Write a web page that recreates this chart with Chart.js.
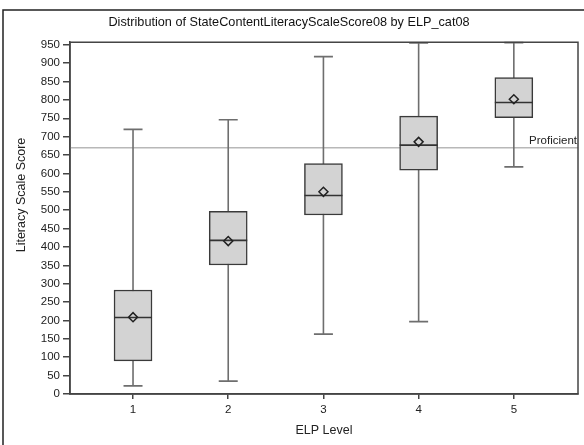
<!DOCTYPE html>
<html>
<head>
<meta charset="utf-8">
<script src="https://cdn.jsdelivr.net/npm/chart.js@4/dist/chart.umd.min.js"></script>
<style>
  html, body { margin: 0; padding: 0; background: #fff; }
  canvas { display: block; }
</style>
</head>
<body>
<canvas id="chart" width="584" height="445"></canvas>
<script>
// ELP levels and the box statistics
const levels = [1, 2, 3, 4, 5];
const levelLabels = ['1', '2', '3', '4', '5'];
const minVals = [22, 35, 163, 197, 618];
const q1Vals = [90, 351, 487, 609, 752];
const medianVals = [208, 418, 540, 677, 793];
const q3Vals = [283, 497, 627, 756, 861];
const maxVals = [720, 746, 918, 955, 956];
const meanVals = [209, 416, 550, 686, 802];
const proficientScore = 670;
const yTicks = [0, 50, 100, 150, 200, 250, 300, 350, 400, 450, 500, 550, 600, 650, 700, 750, 800, 850, 900, 950];

const FONT = "'Liberation Sans', Arial, sans-serif";

// whiskers, reference line, medians and frame, all placed through the chart scales
const boxParts = {
    id: 'boxParts',
    beforeDatasetsDraw(chart) {
        const { ctx, chartArea: a, scales: { x, y } } = chart;
        ctx.save();
        // Proficient reference line
        const ry = y.getPixelForValue(proficientScore);
        ctx.strokeStyle = '#b8b8b8';
        ctx.lineWidth = 1.5;
        ctx.beginPath();
        ctx.moveTo(a.left, ry);
        ctx.lineTo(a.right, ry);
        ctx.stroke();

        // whiskers + caps
        ctx.strokeStyle = '#6e6e6e';
        ctx.lineWidth = 1.6;
        levels.forEach((lv, i) => {
            const cx = x.getPixelForValue(lv);
            const yMin = y.getPixelForValue(minVals[i]);
            const yMax = y.getPixelForValue(maxVals[i]);
            ctx.beginPath();
            ctx.moveTo(cx, yMin);
            ctx.lineTo(cx, yMax);
            ctx.moveTo(cx - 9.5, yMin);
            ctx.lineTo(cx + 9.5, yMin);
            ctx.moveTo(cx - 9.5, yMax);
            ctx.lineTo(cx + 9.5, yMax);
            ctx.stroke();
        });
        ctx.restore();
    },
    afterDatasetDraw(chart, args) {
        if (args.index !== 0) return;
        const { ctx, scales: { x, y } } = chart;
        ctx.save();
        ctx.strokeStyle = '#333';
        ctx.lineWidth = 1.6;
        levels.forEach((lv, i) => {
            const cx = x.getPixelForValue(lv);
            const my = y.getPixelForValue(medianVals[i]);
            ctx.beginPath();
            ctx.moveTo(cx - 19, my);
            ctx.lineTo(cx + 19, my);
            ctx.stroke();
        });
        ctx.restore();
    },
    afterDraw(chart) {
        const { ctx, chartArea: a, scales: { y } } = chart;
        ctx.save();
        // plot frame
        ctx.strokeStyle = '#444';
        ctx.lineWidth = 1.5;
        ctx.strokeRect(a.left, a.top, a.right - a.left, a.bottom - a.top);

        // outer frame (left and top edges visible)
        ctx.strokeStyle = '#222';
        ctx.lineWidth = 1.5;
        ctx.beginPath();
        ctx.moveTo(3, 445);
        ctx.lineTo(3, 10);
        ctx.lineTo(584, 10);
        ctx.stroke();

        // reference label
        ctx.fillStyle = '#222';
        ctx.font = '11.5px ' + FONT;
        ctx.textAlign = 'right';
        ctx.textBaseline = 'alphabetic';
        ctx.fillText('Proficient', a.right - 1, y.getPixelForValue(proficientScore) - 4);

        // y axis title
        ctx.font = '12.5px ' + FONT;
        ctx.textAlign = 'center';
        ctx.textBaseline = 'middle';
        ctx.translate(22, 195);
        ctx.rotate(-Math.PI / 2);
        ctx.fillText('Literacy Scale Score', 0, 0);
        ctx.restore();
    }
};

new Chart(document.getElementById('chart'), {
    type: 'bar',
    data: {
        datasets: [
            {
                type: 'bar',
                data: levels.map((lv, i) => ({ x: lv, y: [q1Vals[i], q3Vals[i]] })),
                backgroundColor: '#d3d3d3',
                borderColor: '#3a3a3a',
                borderWidth: 1.5,
                borderSkipped: false,
                barThickness: 38,
                grouped: false,
                order: 2
            },
            {
                type: 'scatter',
                data: levels.map((lv, i) => ({ x: lv, y: meanVals[i] })),
                pointStyle: 'rectRot',
                pointRadius: 4.5,
                borderColor: '#222',
                borderWidth: 1.5,
                backgroundColor: 'rgba(0,0,0,0)',
                order: 1
            }
        ]
    },
    options: {
        responsive: false,
        animation: false,
        devicePixelRatio: 1,
        layout: { padding: { left: 0, right: 6, top: 0, bottom: 0 } },
        plugins: {
            legend: { display: false },
            tooltip: { enabled: false },
            title: {
                display: true,
                text: 'Distribution of StateContentLiteracyScaleScore08 by ELP_cat08',
                color: '#111',
                font: { family: FONT, size: 12.7, weight: 'normal' },
                padding: { top: 15, bottom: 12 }
            }
        },
        scales: {
            x: {
                type: 'linear',
                min: 0.338,
                max: 5.674,
                offset: false,
                afterBuildTicks: s => { s.ticks = levels.map(v => ({ value: v })); },
                afterFit: s => { s.height = 51; },
                ticks: {
                    color: '#222',
                    font: { family: FONT, size: 11.5 },
                    padding: 4,
                    callback: v => levelLabels[levels.indexOf(v)]
                },
                grid: { offset: false, drawOnChartArea: false, tickLength: 5, color: '#444', lineWidth: 1.5 },
                border: { color: '#444', width: 1.5 },
                title: {
                    display: true,
                    text: 'ELP Level',
                    color: '#222',
                    font: { family: FONT, size: 12.5 },
                    padding: { top: 0, bottom: 7 }
                }
            },
            y: {
                type: 'linear',
                min: 0,
                max: 957,
                afterBuildTicks: s => { s.ticks = yTicks.map(v => ({ value: v })); },
                afterFit: s => { s.width = 70; },
                ticks: {
                    color: '#222',
                    font: { family: FONT, size: 11.5 },
                    padding: 3
                },
                grid: { drawOnChartArea: false, tickLength: 7, color: '#444', lineWidth: 1.5 },
                border: { color: '#444', width: 1.5 }
            }
        }
    },
    plugins: [boxParts]
});
</script>
</body>
</html>
